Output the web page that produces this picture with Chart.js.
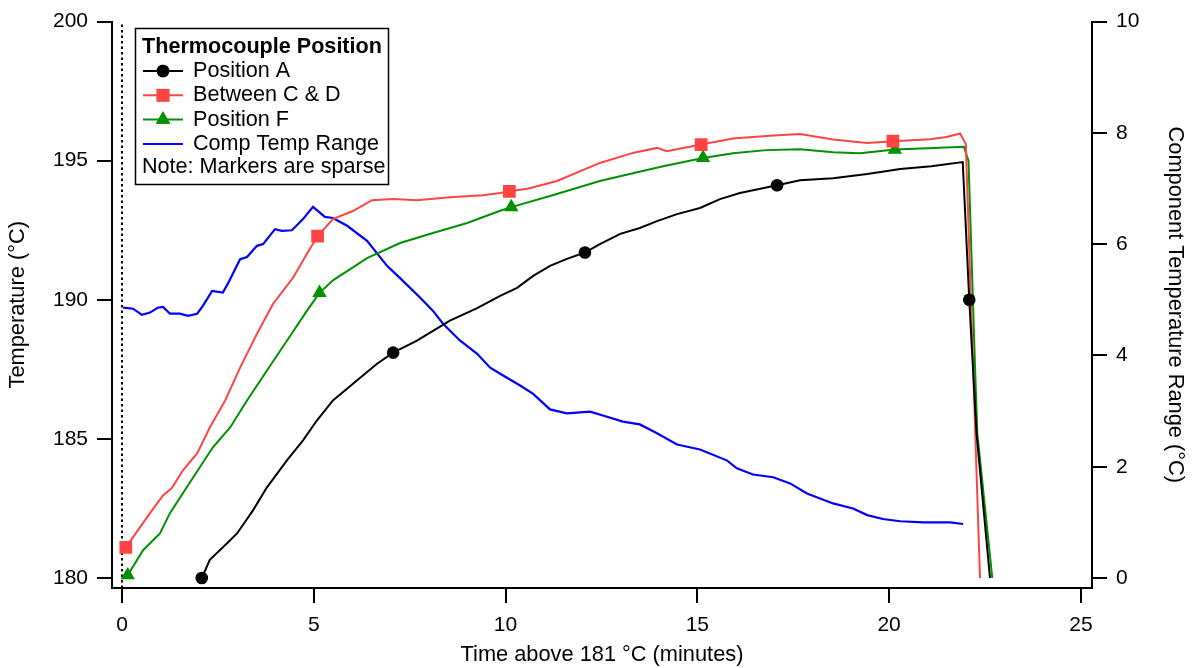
<!DOCTYPE html>
<html>
<head>
<meta charset="utf-8">
<script src="https://cdn.jsdelivr.net/npm/chart.js@4"></script>
<style>
  html, body { margin: 0; padding: 0; background: #fff; }
  #wrap { width: 1192px; height: 668px; position: relative; }
</style>
</head>
<body>
<div id="wrap"><canvas id="tempChart"></canvas></div>
<script>
// Position A (black, circles)
var timeA = [2.08, 2.29, 2.74, 3.0, 3.42, 3.78, 4.3, 4.72, 5.08, 5.5, 6.21, 6.65, 7.07, 7.69, 8.55, 9.26, 9.86, 10.3, 10.72, 11.16, 11.6, 12.07, 12.46, 12.99, 13.5, 13.95, 14.47, 15.07, 15.59, 16.11, 17.08, 17.68, 18.54, 19.43, 20.29, 21.1, 21.92, 22.09, 22.28, 22.63];
var tempA = [180.0, 180.65, 181.25, 181.6, 182.44, 183.26, 184.23, 184.95, 185.66, 186.38, 187.2, 187.7, 188.1, 188.53, 189.25, 189.7, 190.14, 190.43, 190.86, 191.22, 191.47, 191.7, 192.0, 192.37, 192.58, 192.83, 193.08, 193.3, 193.62, 193.84, 194.12, 194.3, 194.37, 194.52, 194.7, 194.8, 194.95, 190.0, 185.2, 180.0];
var markTimesA = [2.08, 7.07, 12.07, 17.08, 22.09];

// Between C & D (red, squares)
var timeCD = [0.1, 0.29, 0.73, 1.07, 1.3, 1.59, 1.96, 2.29, 2.69, 3.08, 3.52, 3.94, 4.46, 4.82, 5.1, 5.5, 6.02, 6.52, 7.07, 7.69, 8.55, 9.41, 9.86, 10.1, 10.6, 11.34, 12.46, 13.32, 13.95, 14.2, 15.1, 15.93, 16.98, 17.68, 18.54, 19.43, 20.1, 21.07, 21.5, 21.85, 22.0, 22.37];
var tempCD = [181.1, 181.47, 182.33, 182.97, 183.23, 183.87, 184.48, 185.41, 186.38, 187.56, 188.78, 189.86, 190.79, 191.65, 192.29, 192.9, 193.19, 193.58, 193.62, 193.58, 193.69, 193.76, 193.84, 193.9, 194.0, 194.27, 194.92, 195.28, 195.46, 195.34, 195.58, 195.8, 195.91, 195.96, 195.76, 195.64, 195.7, 195.77, 195.85, 195.98, 195.6, 180.0];
var markTimesCD = [0.1, 5.1, 10.1, 15.1, 20.1];

// Position F (green, triangles)
var timeF = [0.15, 0.55, 0.99, 1.25, 1.69, 2.03, 2.37, 2.82, 3.26, 3.78, 4.3, 4.82, 5.15, 5.5, 6.39, 7.25, 8.11, 9.0, 9.86, 10.15, 11.16, 12.46, 13.32, 14.11, 15.15, 15.93, 16.8, 17.68, 18.54, 19.24, 20.15, 21.0, 21.95, 22.07, 22.24, 22.3, 22.69];
var tempF = [180.1, 181.0, 181.6, 182.33, 183.26, 183.98, 184.7, 185.41, 186.38, 187.46, 188.53, 189.6, 190.25, 190.7, 191.5, 192.04, 192.4, 192.76, 193.2, 193.33, 193.73, 194.27, 194.55, 194.8, 195.1, 195.27, 195.38, 195.41, 195.3, 195.27, 195.4, 195.45, 195.5, 195.0, 187.6, 185.2, 180.0];
var markTimesF = [0.15, 5.15, 10.15, 15.15, 20.15];

// Component temperature range (blue, right axis)
var timeRange = [0.03, 0.29, 0.52, 0.73, 0.94, 1.07, 1.25, 1.51, 1.72, 1.96, 2.11, 2.35, 2.63, 2.76, 3.08, 3.26, 3.52, 3.68, 3.99, 4.17, 4.43, 4.72, 4.98, 5.29, 5.5, 5.87, 6.39, 6.91, 7.25, 7.77, 8.11, 8.37, 8.81, 9.26, 9.6, 9.86, 10.38, 10.72, 11.16, 11.6, 12.2, 12.54, 13.06, 13.5, 13.95, 14.47, 15.07, 15.78, 16.03, 16.45, 16.98, 17.42, 17.86, 18.54, 19.06, 19.43, 19.84, 20.29, 20.89, 21.59, 21.93];
var compRange = [4.86, 4.84, 4.73, 4.77, 4.86, 4.87, 4.75, 4.75, 4.71, 4.75, 4.89, 5.16, 5.13, 5.29, 5.73, 5.77, 5.97, 6.0, 6.27, 6.24, 6.25, 6.45, 6.67, 6.49, 6.47, 6.33, 6.06, 5.61, 5.39, 5.04, 4.8, 4.57, 4.27, 4.03, 3.78, 3.67, 3.46, 3.31, 3.03, 2.96, 2.99, 2.92, 2.81, 2.76, 2.6, 2.4, 2.31, 2.11, 1.97, 1.86, 1.81, 1.7, 1.52, 1.34, 1.25, 1.13, 1.06, 1.02, 1.0, 1.0, 0.97];

var timeTicks = [0, 5, 10, 15, 20, 25];
var tempTicks = [180, 185, 190, 195, 200];
var rangeTicks = [0, 2, 4, 6, 8, 10];
var startTime = 0;

var legendTitle = 'Thermocouple Position';
var legendNote = 'Note: Markers are sparse';

var FONT = '"Liberation Sans", Arial, sans-serif';

function toPoints(xs, ys) {
    return xs.map(function (x, i) { return { x: x, y: ys[i] }; });
}

function markerRadius(times, r) {
    return function (ctx) {
        return ctx.raw && times.indexOf(ctx.raw.x) >= 0 ? r : 0;
    };
}

var series = [
    { label: 'Position A', color: '#000000', style: 'circle', radius: 6.3 },
    { label: 'Between C & D', color: '#ff4444', style: 'rect', radius: 9 },
    { label: 'Position F', color: '#009100', style: 'triangle', radius: 8.3 },
    { label: 'Comp Temp Range', color: '#0000ff', style: false, radius: 0 }
];

// legend drawn inside the plot, top-left
var legendBox = {
    id: 'legendBox',
    afterDatasetsDraw: function (chart) {
        var ctx = chart.ctx;
        var left = 135, top = 28, w = 253, h = 156;
        ctx.save();
        ctx.fillStyle = '#fff';
        ctx.fillRect(left, top, w, h);
        ctx.strokeStyle = '#000';
        ctx.lineWidth = 1.5;
        ctx.strokeRect(left + 0.5, top + 0.5, w, h);
        ctx.fillStyle = '#000';
        ctx.textBaseline = 'middle';
        ctx.font = 'bold 21.6px ' + FONT;
        ctx.fillText(legendTitle, 142, 47);
        ctx.font = '21.6px ' + FONT;
        series.forEach(function (s, i) {
            var y = 71 + i * 24.3;
            ctx.strokeStyle = s.color;
            ctx.lineWidth = 2;
            ctx.beginPath();
            ctx.moveTo(143, y);
            ctx.lineTo(183, y);
            ctx.stroke();
            if (s.style) {
                ctx.fillStyle = s.color;
                Chart.helpers.drawPoint(ctx, { pointStyle: s.style, radius: s.radius, rotation: 0, borderWidth: 0 }, 163, y);
                ctx.fill();
            }
            ctx.fillStyle = '#000';
            ctx.fillText(s.label, 193, y);
        });
        ctx.fillText(legendNote, 142, 167);
        ctx.restore();
    }
};

function lineSet(i, xs, ys, marks, axis) {
    var s = series[i];
    return {
        label: s.label,
        data: toPoints(xs, ys),
        yAxisID: axis,
        showLine: true,
        borderColor: s.color,
        backgroundColor: s.color,
        borderWidth: s.style ? 2 : 2.2,
        tension: 0,
        pointStyle: s.style || 'circle',
        pointRadius: marks ? markerRadius(marks, s.radius) : 0,
        pointBorderWidth: 0,
        pointHoverRadius: 0
    };
}

var ctx = document.getElementById('tempChart').getContext('2d');
new Chart(ctx, {
    type: 'scatter',
    data: {
        datasets: [
            lineSet(0, timeA, tempA, markTimesA, 'y'),
            lineSet(1, timeCD, tempCD, markTimesCD, 'y'),
            lineSet(2, timeF, tempF, markTimesF, 'y'),
            lineSet(3, timeRange, compRange, null, 'y2'),
            {
                label: 'start',
                data: [{ x: startTime, y: 179.64 }, { x: startTime, y: 200 }],
                yAxisID: 'y',
                showLine: true,
                borderColor: '#000',
                borderWidth: 2,
                borderDash: [2.5, 3],
                pointRadius: 0
            }
        ]
    },
    options: {
        responsive: true,
        maintainAspectRatio: false,
        animation: false,
        events: [],
        layout: { padding: { top: 20, left: 0, right: 0, bottom: 0 } },
        plugins: {
            legend: { display: false },
            tooltip: { enabled: false }
        },
        scales: {
            x: {
                type: 'linear',
                min: -0.26,
                max: 25.29,
                afterBuildTicks: function (scale) {
                    scale.ticks = timeTicks.map(function (v) { return { value: v }; });
                },
                afterFit: function (scale) { scale.height = 80; },
                grid: { drawOnChartArea: false, color: '#000', lineWidth: 2, tickLength: 15 },
                border: { display: true, color: '#000', width: 2 },
                ticks: { color: '#000', font: { family: FONT, size: 21 }, padding: 10, maxRotation: 0 },
                title: { display: true, text: 'Time above 181 °C (minutes)', color: '#000', font: { family: FONT, size: 21.8 }, padding: { top: 0, bottom: 0 } }
            },
            y: {
                position: 'left',
                min: 179.64,
                max: 200,
                afterBuildTicks: function (scale) {
                    scale.ticks = tempTicks.map(function (v) { return { value: v }; });
                },
                afterFit: function (scale) { scale.width = 112; },
                grid: { drawOnChartArea: false, color: '#000', lineWidth: 2, tickLength: 15 },
                border: { display: true, color: '#000', width: 2 },
                ticks: { color: '#000', font: { family: FONT, size: 21 }, padding: 9 },
                title: { display: true, text: 'Temperature (°C)', color: '#000', font: { family: FONT, size: 21.8 }, padding: { top: 5, bottom: 0 } }
            },
            y2: {
                position: 'right',
                min: -0.18,
                max: 10,
                afterBuildTicks: function (scale) {
                    scale.ticks = rangeTicks.map(function (v) { return { value: v }; });
                },
                afterFit: function (scale) { scale.width = 100; },
                grid: { drawOnChartArea: false, color: '#000', lineWidth: 2, tickLength: 15 },
                border: { display: true, color: '#000', width: 2 },
                ticks: { color: '#000', font: { family: FONT, size: 21 }, padding: 9 },
                title: { display: true, text: 'Component Temperature Range (°C)', color: '#000', font: { family: FONT, size: 21.8 }, padding: { top: 4, bottom: 0 } }
            }
        }
    },
    plugins: [legendBox]
});
</script>
</body>
</html>
